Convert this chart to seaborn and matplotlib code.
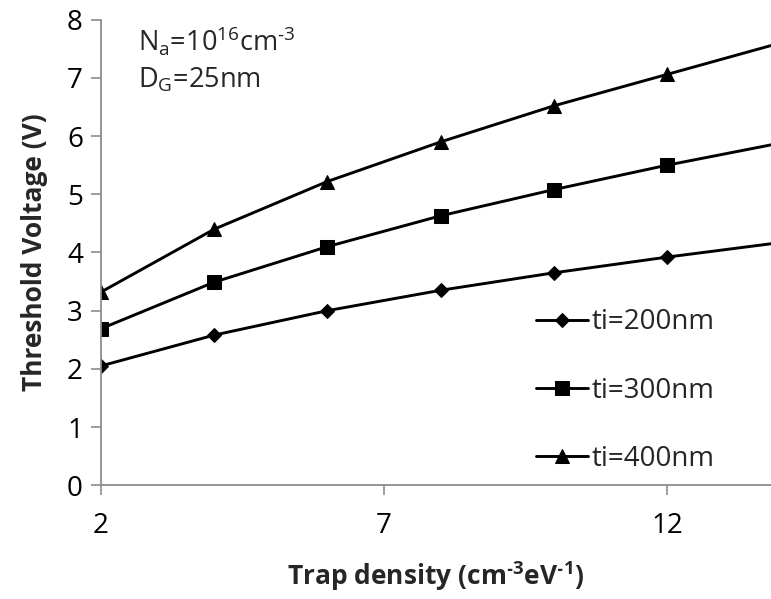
import numpy as np
import pandas as pd
import matplotlib
matplotlib.use("Agg")
import matplotlib.pyplot as plt
import seaborn as sns

# Data
trap_density = [2, 4, 6, 8, 10, 12, 14]
vt_200 = [2.05, 2.58, 3.00, 3.35, 3.65, 3.92, 4.17]
vt_300 = [2.69, 3.49, 4.10, 4.63, 5.08, 5.50, 5.88]
vt_400 = [3.32, 4.40, 5.22, 5.90, 6.52, 7.06, 7.60]
series_labels = ["ti=200nm", "ti=300nm", "ti=400nm"]
x_ticks = [2, 7, 12]
y_ticks = [0, 1, 2, 3, 4, 5, 6, 7, 8]

df = pd.concat([
    pd.DataFrame({"x": trap_density, "y": v, "series": lab})
    for v, lab in zip([vt_200, vt_300, vt_400], series_labels)
])

sns.set_theme(style="white")
plt.rcParams["font.family"] = ["Open Sans", "DejaVu Sans"]
plt.rcParams["mathtext.fontset"] = "custom"
plt.rcParams["mathtext.rm"] = "Open Sans"
plt.rcParams["mathtext.sf"] = "Open Sans"
plt.rcParams["mathtext.bf"] = "Open Sans:bold"

fig = plt.figure(figsize=(7.71, 5.99), dpi=100)
ax = fig.add_axes([0.131, 0.190, 0.869, 0.777])

sns.lineplot(data=df, x="x", y="y", hue="series", style="series",
             palette=["black"] * 3,
             markers={"ti=200nm": "D", "ti=300nm": "s", "ti=400nm": "^"},
             dashes=False, linewidth=2.1, markersize=9.5,
             markeredgecolor="black", ax=ax, legend=True)

for line in ax.lines:
    if line.get_marker() == "D":
        line.set_markersize(7.2)

ax.set_xlim(2, 13.84)
ax.set_ylim(0, 8)
ax.set_xticks(x_ticks)
ax.set_yticks(y_ticks)
ax.tick_params(axis="both", labelsize=20, length=7, width=1.2,
               direction="out", left=True, bottom=True, pad=6)
ax.tick_params(axis="x", pad=12, colors="#8c8c8c", labelcolor="black")
ax.tick_params(axis="y", pad=6, colors="#8c8c8c", labelcolor="black")
for s in ["top", "right"]:
    ax.spines[s].set_visible(False)
for s in ["left", "bottom"]:
    ax.spines[s].set_color("#8c8c8c")
    ax.spines[s].set_linewidth(1.3)

ax.set_xlabel("Trap density (cm$^{\\mathbf{\u20103}}$eV$^{\\mathbf{\u20101}}$)",
              fontsize=19, fontweight="bold", labelpad=14)
ax.set_ylabel("Threshold Voltage (V)", fontsize=19, fontweight="bold", labelpad=14)

ax.text(0.055, 0.955, "N$_{\\mathsf{a}}$=10$^{\\mathsf{16}}$cm$^{\\mathsf{\u20103}}$",
        transform=ax.transAxes, fontsize=19.5, va="center", ha="left")
ax.text(0.055, 0.870, "D$_{\\mathsf{G}}$=25nm",
        transform=ax.transAxes, fontsize=19.5, va="center", ha="left")

leg = ax.legend(loc="upper left", bbox_to_anchor=(0.649, 0.38), frameon=False,
                fontsize=20, labelspacing=1.45, handlelength=1.87,
                handletextpad=0.15, borderaxespad=0, borderpad=0)
for h in leg.legend_handles:
    h.set_color("black")
    h.set_linewidth(2.1)

fig.savefig("out.png", dpi=100)
